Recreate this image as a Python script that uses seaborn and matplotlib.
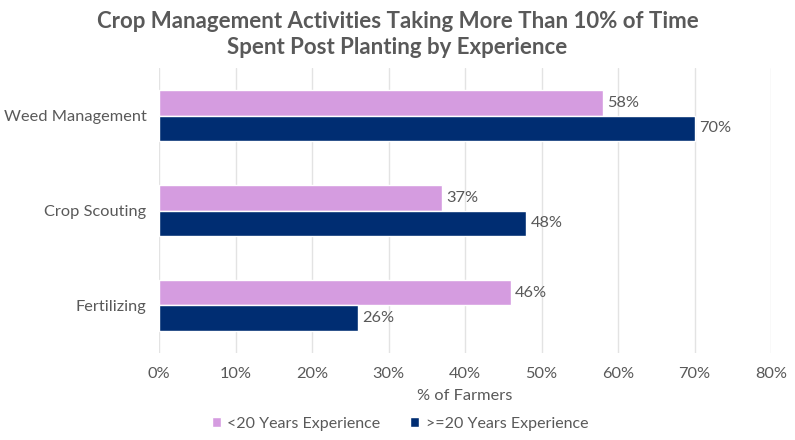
import pandas as pd
import matplotlib.pyplot as plt
import seaborn as sns

# Dados
activities = ["Weed Management", "Crop Scouting", "Fertilizing"]
under_20 = [58, 37, 46]
over_20 = [70, 48, 26]
series_names = ["<20 Years Experience", ">=20 Years Experience"]
x_ticks = [0, 10, 20, 30, 40, 50, 60, 70, 80]

colors = ["#D59CE0", "#002D72"]
text_grey = "#595959"

sns.set_theme(style="white")
plt.rcParams["font.family"] = ["Lato", "DejaVu Sans"]

df = pd.DataFrame({
    "Activity": activities * 2,
    "Value": under_20 + over_20,
    "Group": [series_names[0]] * 3 + [series_names[1]] * 3,
})

fig = plt.figure(figsize=(7.95, 4.4), dpi=100)
ax = fig.add_axes([0.2, 0.198, 0.77, 0.647])

sns.barplot(
    data=df, y="Activity", x="Value", hue="Group", orient="h",
    palette=colors, width=0.53, ax=ax, saturation=1, legend=True,
)

for cont in ax.containers:
    ax.bar_label(cont, fmt="%d%%", padding=3, fontsize=11.8, color=text_grey)

ax.set_xlim(0, 80)
ax.set_xticks(x_ticks)
ax.set_xticklabels([f"{t}%" for t in x_ticks])
ax.set_ylim(2.5, -0.5)
ax.set_ylabel("")
ax.set_xlabel("% of Farmers", fontsize=11.8, color=text_grey, labelpad=6)
ax.tick_params(axis="both", length=0, labelsize=11.8, labelcolor=text_grey, pad=10)
ax.tick_params(axis="y", pad=9)
ax.xaxis.grid(True, color="#E3E3E3", linewidth=1)
ax.set_axisbelow(True)
for s in ax.spines.values():
    s.set_visible(False)

handles, labels = ax.get_legend_handles_labels()
ax.legend_.remove()
fig.legend(handles, labels, loc="lower center", bbox_to_anchor=(0.503, -0.012),
           ncol=2, frameon=False, fontsize=11.5, handlelength=0.55, handleheight=0.55,
           handletextpad=0.4, columnspacing=1.9, labelcolor=text_grey)

fig.suptitle("Crop Management Activities Taking More Than 10% of Time\nSpent Post Planting by Experience",
             y=0.975, fontsize=16, fontweight="bold", color=text_grey, linespacing=1.3)

fig.savefig("out.png", dpi=100)
